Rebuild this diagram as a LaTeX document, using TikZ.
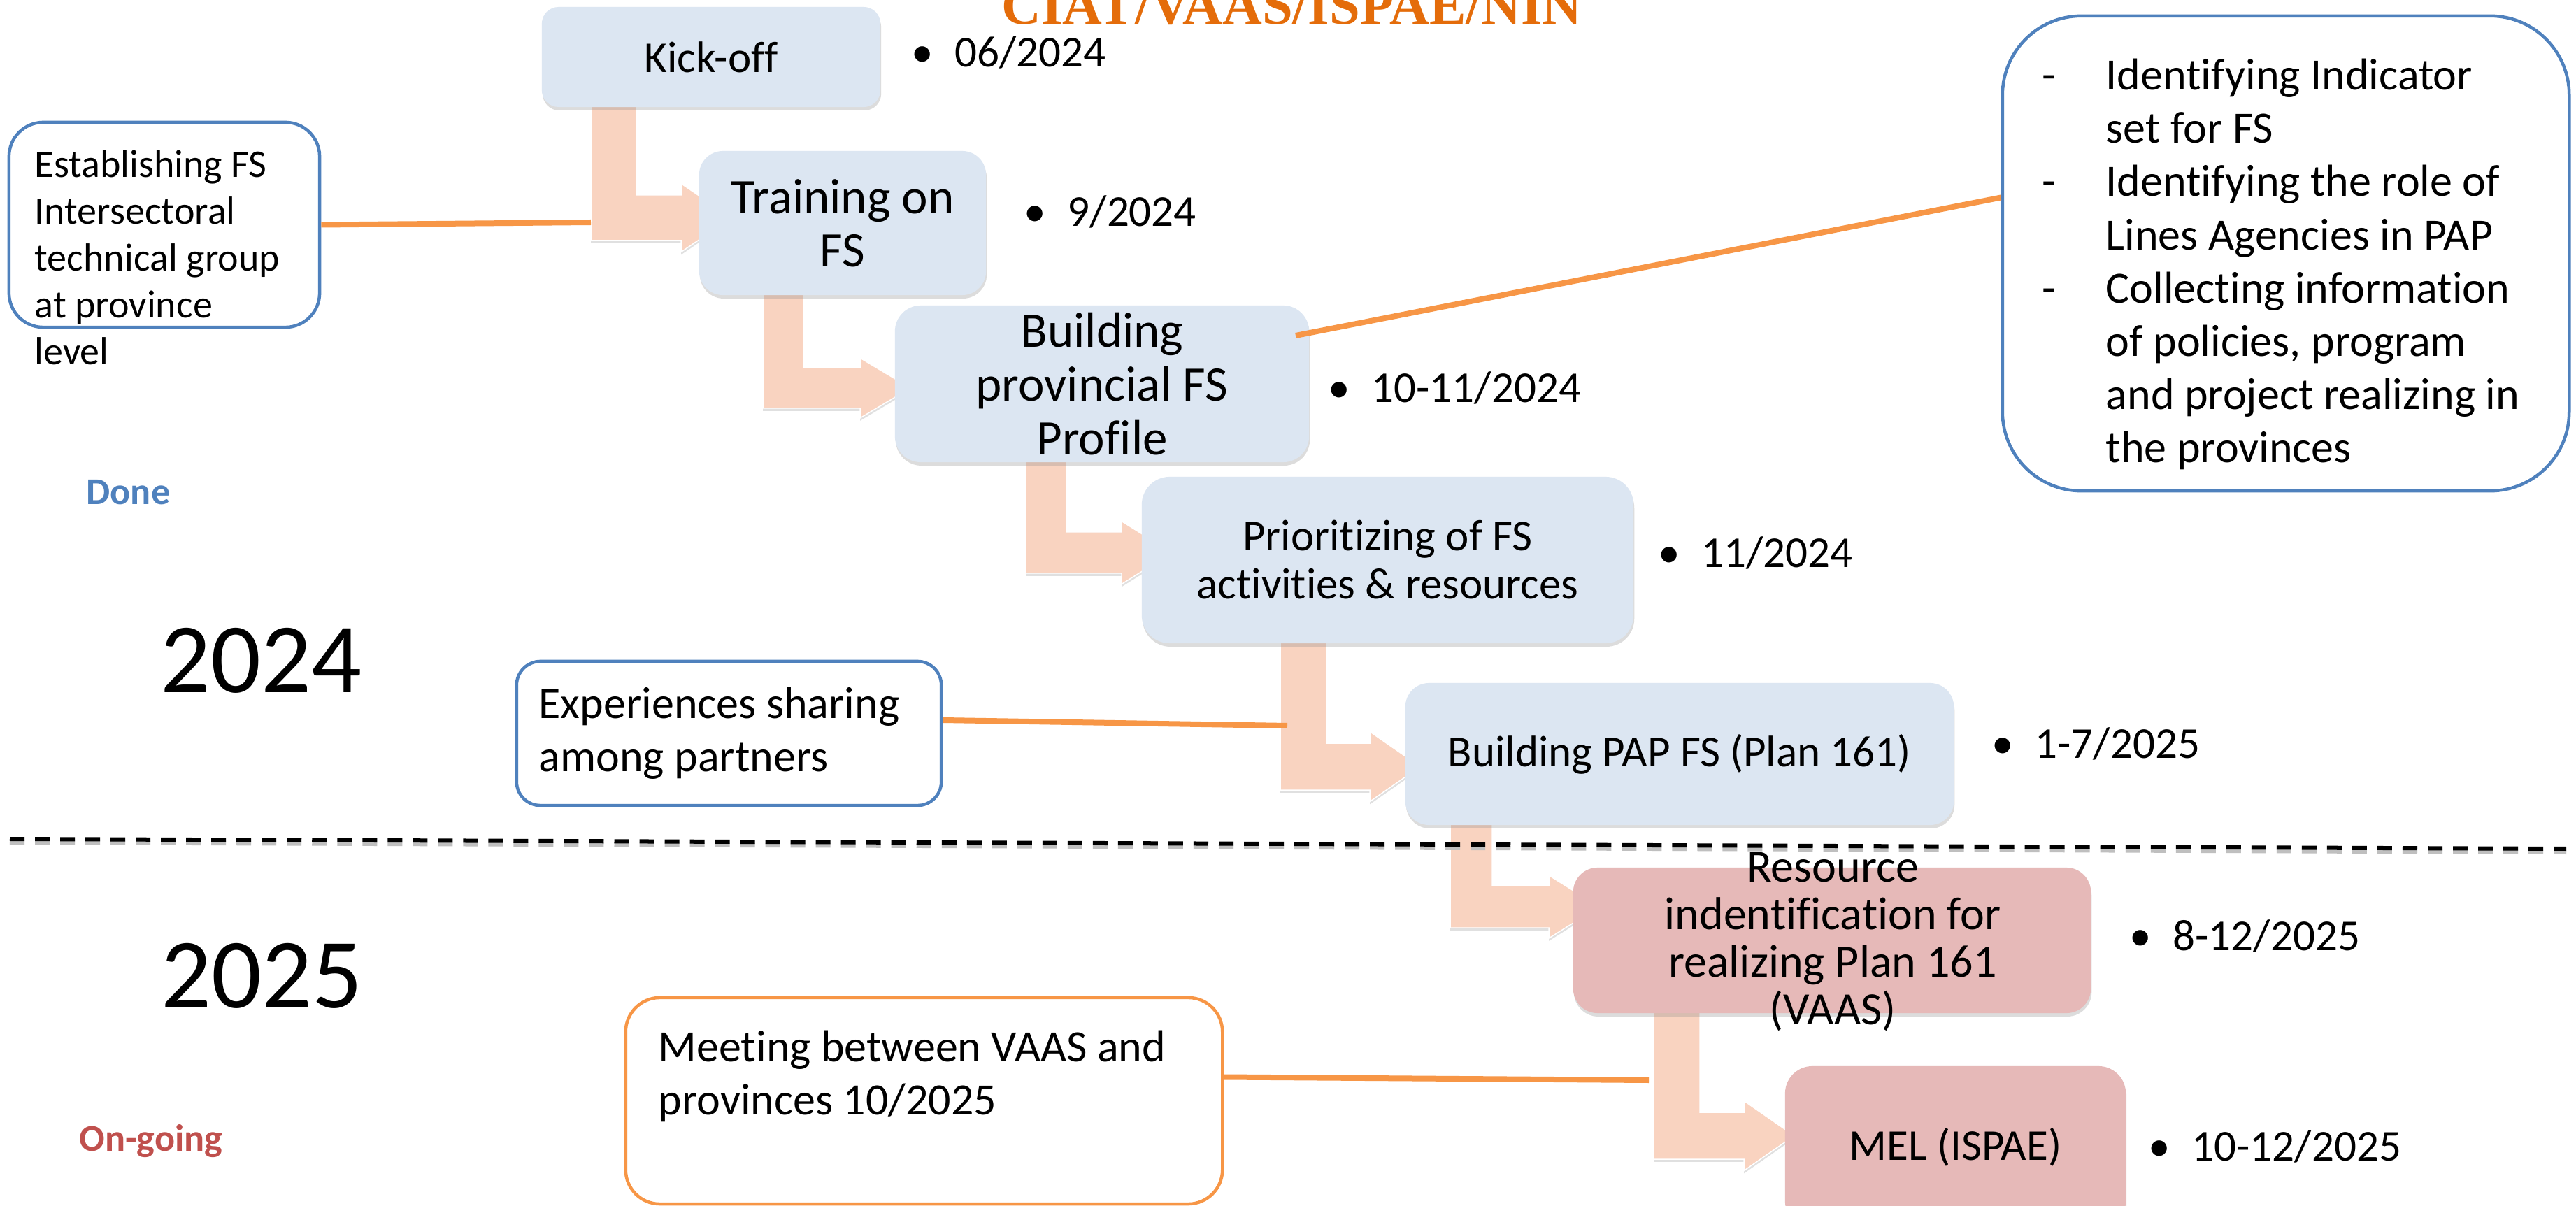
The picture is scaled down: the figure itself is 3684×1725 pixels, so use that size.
\documentclass[tikz,border=0pt]{standalone}
\usepackage{fontspec}
\setmainfont{Carlito}[Ligatures=NoCommon]
\newfontfamily\titlefont{Liberation Serif}
\usetikzlibrary{calc,shadows}
\definecolor{boxblue}{HTML}{DCE6F2}
\definecolor{boxpink}{HTML}{E6B9B8}
\definecolor{peach}{HTML}{F9D3C0}
\definecolor{linkorange}{HTML}{F79646}
\definecolor{outlineblue}{HTML}{4F81BD}
\definecolor{titleorange}{HTML}{E46C0A}
\definecolor{goingred}{HTML}{C0504D}
\newcommand\fs[2]{\fontsize{#1}{#2}\selectfont}
% #1 a, #2 b (vertical shaft x-range), #3 y0, #4 c, #5 d (horizontal shaft y-range), #6 head base x, #7 head half height
\newcommand\bentarrow[7]{%
  \path[peacharrow] (#1,#3) -- (#2,#3) -- (#2,#4) -- (#6,#4) -- (#6,{(#4+#5)/2-#7})
    -- ({#6+72},{(#4+#5)/2}) -- (#6,{(#4+#5)/2+#7}) -- (#6,#5) -- (#1,#5) -- cycle;}
\tikzset{
  stagebox/.style={fill=#1, inner sep=0pt, align=center,
    drop shadow={shadow xshift=0.3pt, shadow yshift=-1.4pt, opacity=0.3, fill=black!45}},
  notebox/.style={draw=#1, fill=white, line width=0.045cm, inner sep=0pt},
  notetext/.style={anchor=north west, inner sep=0pt, align=left, font=\fs{18.21pt}{21.62pt}},
  datetext/.style={anchor=base west, inner sep=0pt, font=\fs{17.93pt}{21pt}},
  peacharrow/.style={fill=peach, draw=white, line width=0.015cm,
    drop shadow={shadow xshift=0pt, shadow yshift=-1.1pt, opacity=0.3, fill=black!40}},
  linkline/.style={draw=linkorange, line width=0.08cm},
  divider/.style={draw=black, line width=0.06cm, dash pattern=on 0.21cm off 0.15cm},
  yearlabel/.style={anchor=base west, inner sep=0pt, font=\fs{40.4pt}{44pt}},
  statuslabel/.style={anchor=base west, inner sep=0pt, font=\fs{15.4pt}{18pt}\bfseries},
}
\begin{document}
\begin{tikzpicture}[x=0.01cm, y=-0.01cm]
\useasboundingbox (0,0) rectangle (3684,1725);
\clip (0,0) rectangle (3684,1725);
\fill[white] (0,0) rectangle (3684,1725);

% title
\node[anchor=base, inner sep=0pt, text=titleorange, font=\titlefont\bfseries\fs{22.36pt}{26pt}] (title) at (1847.5,35) {CIAT/VAAS/ISPAE/NIN};

% bent arrows
\bentarrow{845}{910}{150}{279}{344}{974}{49}
\bentarrow{1091}{1149}{418}{526}{584}{1230}{43}
\bentarrow{1467}{1525}{658}{761}{820}{1604}{45}
\bentarrow{1831}{1897}{916}{1063}{1130}{1959}{50}
\bentarrow{2074}{2134}{1176}{1267}{1327}{2215}{45}
\bentarrow{2365}{2431}{1445}{1591}{1658}{2494}{50}
\coordinate (a1w) at (845,318);
\coordinate (a4w) at (1841,1038);
\coordinate (a6w) at (2358,1545);

% divider
\draw[draw=black!25, line width=0.06cm, dash pattern=on 0.21cm off 0.15cm] (14,1205) -- (3670,1219);
\draw[divider] (14,1200) -- (3670,1214);

% stage boxes
\node[stagebox=boxblue, minimum width=4.84cm, minimum height=1.43cm, rounded corners=0.24cm, font=\fs{17.93pt}{21pt}] (kick) at (1017,81.5) {Kick-off};
\node[stagebox=boxblue, minimum width=4.10cm, minimum height=2.06cm, rounded corners=0.34cm, font=\fs{20.2pt}{21.6pt}] (train) at (1205,319) {Training on\\FS};
\node[stagebox=boxblue, minimum width=5.92cm, minimum height=2.24cm, rounded corners=0.37cm, font=\fs{20.2pt}{21.9pt}] (build) at (1576,549) {Building\\provincial FS\\Profile};
\node[stagebox=boxblue, minimum width=7.03cm, minimum height=2.38cm, rounded corners=0.40cm, font=\fs{17.93pt}{19.63pt}] (prior) at (1984.5,801) {Prioritizing of FS\\activities \& resources};
\node[stagebox=boxblue, minimum width=7.84cm, minimum height=2.03cm, rounded corners=0.34cm, font=\fs{17.93pt}{21pt}] (pap) at (2402,1078.5) {Building PAP FS (Plan 161)};
\node[stagebox=boxpink, minimum width=7.40cm, minimum height=2.08cm, rounded corners=0.35cm] (res) at (2620,1345) {};
\node[inner sep=0pt, align=center, font=\fs{18.78pt}{19.35pt}] (resT) at (2621,1347) {Resource\\indentification for\\realizing Plan 161\\(VAAS)};
\node[stagebox=boxpink, minimum width=4.87cm, minimum height=2.32cm, rounded corners=0.39cm, font=\fs{17.93pt}{21pt}] (mel) at (2796.5,1641) {MEL (ISPAE)};

% note boxes
\node[notebox=outlineblue, minimum width=4.44cm, minimum height=2.93cm, rounded corners=0.49cm] (estab) at (235,321.5) {};
\node[notetext, font=\fs{15.93pt}{19.06pt}] (estabT) at (49,208) {\rule{0pt}{0.8em}Establishing FS\\Intersectoral\\technical group\\at province\\level};
\node[notebox=outlineblue, minimum width=8.10cm, minimum height=6.79cm, rounded corners=1.13cm] (ident) at (3269,362.5) {};
\node[notetext] (identT) at (2920,77) {\rule{0pt}{0.8em}\makebox[0.91cm][l]{-}Identifying Indicator\\
\hspace*{0.91cm}set for FS\\
\makebox[0.91cm][l]{-}Identifying the role of\\
\hspace*{0.91cm}Lines Agencies in PAP\\
\makebox[0.91cm][l]{-}Collecting information\\
\hspace*{0.91cm}of policies, program\\
\hspace*{0.91cm}and project realizing in\\
\hspace*{0.91cm}the provinces};
\node[notebox=outlineblue, minimum width=6.07cm, minimum height=2.06cm, rounded corners=0.34cm] (exper) at (1042.5,1049) {};
\node[notetext] (experT) at (770,976) {\rule{0pt}{0.8em}Experiences sharing\\among partners};
\node[notebox=linkorange, minimum width=8.53cm, minimum height=2.95cm, rounded corners=0.49cm] (meet) at (1321.5,1574.5) {};
\node[notetext] (meetT) at (941,1467) {\rule{0pt}{0.8em}Meeting between VAAS and\\provinces 10/2025};

% connectors
\draw[linkline] (estab.east) -- (a1w);
\draw[linkline] ($(build.east)+(-20,-69)$) -- ($(ident.west)+(0,-80)$);
\draw[linkline] ($(exper.east)+(0,-19)$) -- (a4w);
\draw[linkline] ($(meet.east)+(0,-34)$) -- (a6w);

% dates
\node[datetext] (d1) at (1303,96) {\makebox[0.62cm][l]{•}06/2024};
\node[datetext] (d2) at (1464,324) {\makebox[0.62cm][l]{•}9/2024};
\node[datetext] (d3) at (1899,576) {\makebox[0.62cm][l]{•}10-11/2024};
\node[datetext] (d4) at (2371,812) {\makebox[0.62cm][l]{•}11/2024};
\node[datetext] (d5) at (2848,1084) {\makebox[0.62cm][l]{•}1-7/2025};
\node[datetext] (d6) at (3045,1359) {\makebox[0.62cm][l]{•}8-12/2025};
\node[datetext] (d7) at (3072,1660) {\makebox[0.62cm][l]{•}10-12/2025};

% side labels
\node[statuslabel, text=outlineblue] (done) at (123,722) {Done};
\node[yearlabel] (y2024) at (229,990) {2024};
\node[yearlabel] (y2025) at (230,1441) {2025};
\node[statuslabel, text=goingred] (going) at (113,1646) {On-going};
\end{tikzpicture}
\end{document}
